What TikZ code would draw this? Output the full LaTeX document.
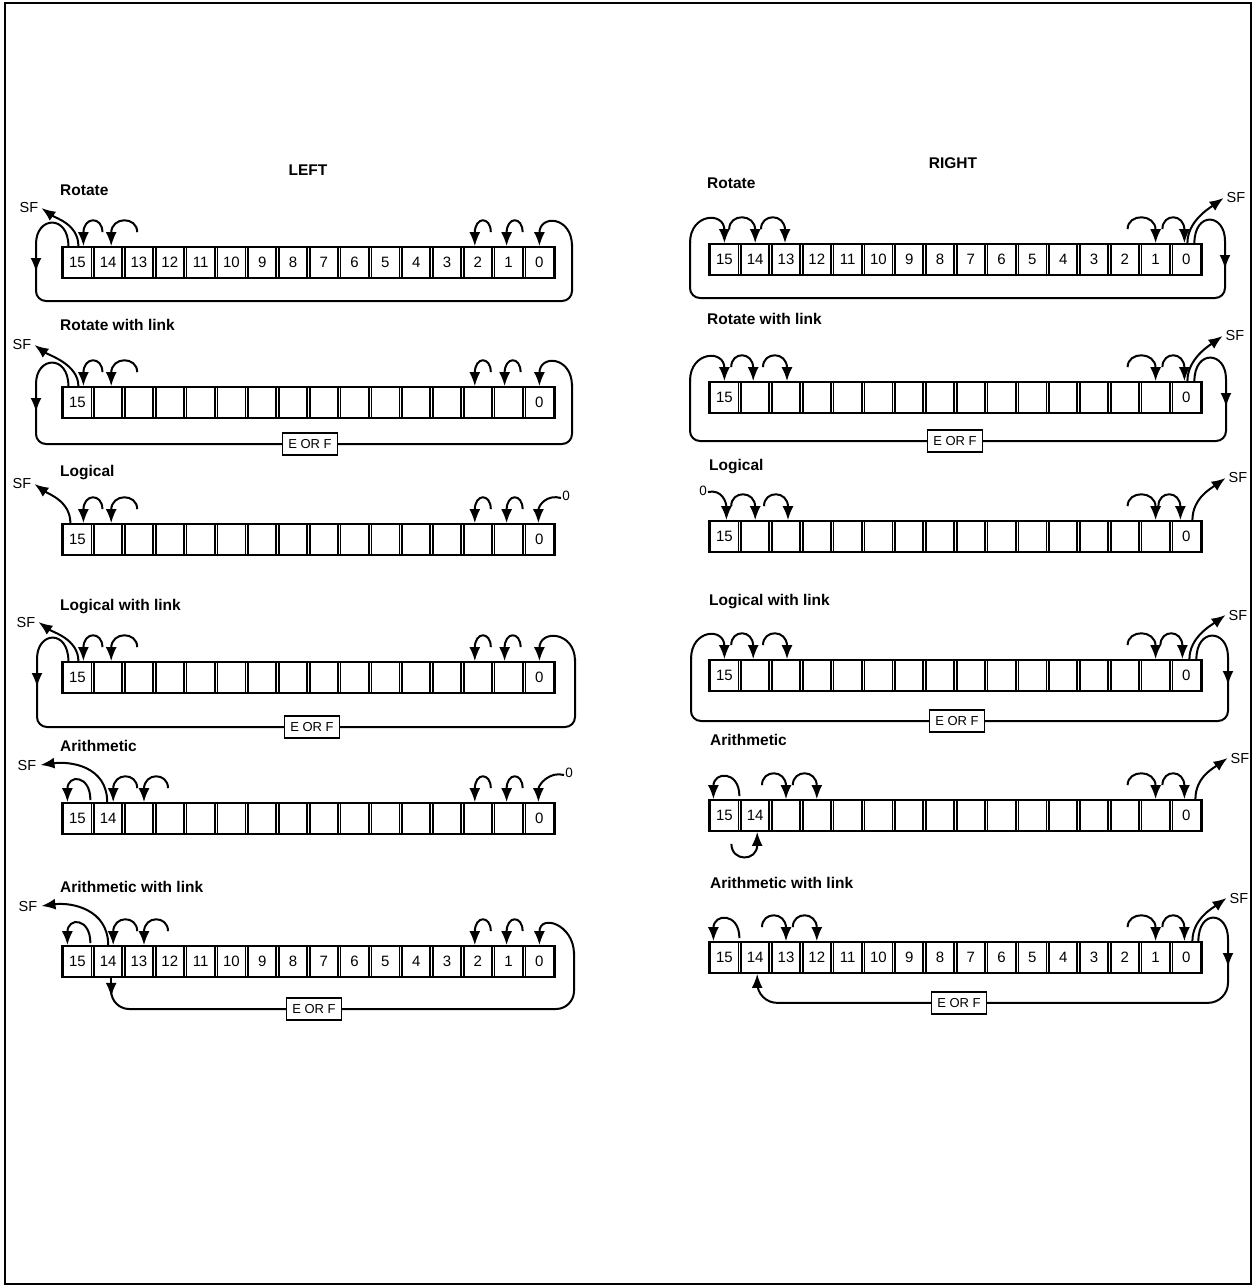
\documentclass[tikz,border=0pt]{standalone}
\usepackage{fontspec}
\setmainfont{Liberation Sans}
\usetikzlibrary{calc,arrows.meta}
\def\cw{30.8}
\newcommand\labfor[2]{\ifcase#1\relax#2\or\ifnum#2=15 15\fi\ifnum#2=0 0\fi\or\ifnum#2=15 15\fi\ifnum#2=14 14\fi\ifnum#2=0 0\fi\fi}
\newcommand\mkreg[4]{%
  \draw[regframe] (#2,#3) rectangle ++({16*\cw},31);
  \foreach \i in {0,...,15}{%
    \pgfmathtruncatemacro\b{15-\i}%
    \node[cellbox] (#1-\b) at ({#2+(\i+0.5)*\cw},{#3+15.5}) {\labfor{#4}{\b}};
  }%
}
\newcommand\hkL[3]{\draw[arr] ($(#1.north)+({#2+#3},-14)$) .. controls +(0,-16) and +(0,-30) .. ($(#1.north)+(#2,0)$);}
\newcommand\hkR[3]{\draw[arr] ($(#1.north)+({#2-#3},-14)$) .. controls +(0,-16) and +(0,-30) .. ($(#1.north)+(#2,0)$);}
\tikzset{
  arr/.style={line width=2pt,-{Latex[length=14pt,width=11pt]}},
  ln/.style={line width=2pt},
  cellbox/.style={draw,line width=1.7pt,minimum width=28.1pt,minimum height=31pt,inner sep=0pt,font=\fontsize{15}{15}\selectfont},
  regframe/.style={line width=2.2pt},
  ttl/.style={font=\bfseries\fontsize{15.5}{15.5}\selectfont,anchor=west,inner sep=0pt},
  hd/.style={font=\bfseries\fontsize{15.5}{15.5}\selectfont,inner sep=0pt},
  sft/.style={font=\fontsize{14.5}{14.5}\selectfont,inner sep=0pt},
  zt/.style={font=\fontsize{13.5}{13.5}\selectfont,inner sep=0pt},
  eor/.style={draw,fill=white,line width=1.6pt,minimum width=55pt,minimum height=22pt,inner sep=2pt,font=\fontsize{13}{13}\selectfont},
}
\begin{document}
\begin{tikzpicture}[x=1pt,y=-1pt]
\useasboundingbox (0,0) rectangle (1256,1288);
\draw[line width=1.5pt] (5,3) rectangle (1251,1284);
\node[hd] (lefthd) at (308,170) {LEFT};
\node[hd] (righthd) at (953,163) {RIGHT};
% ================= LEFT =================
% L1 Rotate
\mkreg{L1}{62}{247}{0}
\node[ttl] (L1t) at (60,190) {Rotate};
\node[sft] (L1sf) at (29,208) {SF};
\draw[arr] ($(L1-15.north)+(1,0)$) .. controls +(0,-22) and +(14,10) .. ($(L1sf.east)+(3,0)$);
\draw[arr] ($(L1-15.north)+(-9,0)$) .. controls +(0,-32) and +(0,-28) .. (36,244) -- (36,272);
\draw[ln,rounded corners=10pt] (36,266) |- (300,301) -| (572,244);
\draw[arr] (572,246) .. controls +(0,-30) and +(0,-32) .. (L1-0.north);
\hkL{L1-15}{6}{19}\hkL{L1-14}{3}{26}\hkL{L1-2}{-3}{16}\hkL{L1-1}{-2}{16}
% L2 Rotate with link
\mkreg{L2}{62}{387}{1}
\node[ttl] (L2t) at (60,325) {Rotate with link};
\node[sft] (L2sf) at (22,345) {SF};
\draw[arr] ($(L2-15.north)+(1,0)$) .. controls +(0,-22) and +(14,10) .. ($(L2sf.east)+(3,0)$);
\draw[arr] ($(L2-15.north)+(-9,0)$) .. controls +(0,-32) and +(0,-28) .. (36,384) -- (36,412);
\draw[ln,rounded corners=10pt] (36,406) |- (300,444) -| (572,384);
\draw[arr] (572,386) .. controls +(0,-30) and +(0,-32) .. (L2-0.north);
\node[eor] (L2eor) at (310,444) {E OR F};
\hkL{L2-15}{6}{19}\hkL{L2-14}{3}{26}\hkL{L2-2}{-3}{16}\hkL{L2-1}{-4}{16}
% L3 Logical
\mkreg{L3}{62}{524}{1}
\node[ttl] (L3t) at (60,473) {Logical};
\node[sft] (L3sf) at (22,484) {SF};
\draw[arr] ($(L3-15.north)+(-7,0)$) .. controls +(0,-22) and +(14,10) .. ($(L3sf.east)+(3,0)$);
\hkL{L3-15}{6}{19}\hkL{L3-14}{3}{26}\hkL{L3-2}{-3}{16}\hkL{L3-1}{-2}{16}
\node[zt] (L3z) at (566,496) {0};
\draw[arr] ($(L3z.west)+(-1,2)$) .. controls +(-14,-4) and +(0,-18) .. ($(L3-0.north)+(-1,0)$);
% L4 Logical with link
\mkreg{L4}{62}{662}{1}
\node[ttl] (L4t) at (60,607) {Logical with link};
\node[sft] (L4sf) at (26,622) {SF};
\draw[arr] ($(L4-15.north)+(1,0)$) .. controls +(0,-22) and +(14,10) .. ($(L4sf.east)+(3,0)$);
\draw[arr] ($(L4-15.north)+(-9,0)$) .. controls +(0,-32) and +(0,-28) .. (37,659) -- (37,687);
\draw[ln,rounded corners=10pt] (37,681) |- (300,727) -| (575,659);
\draw[arr] (575,661) .. controls +(0,-30) and +(0,-32) .. (L4-0.north);
\node[eor] (L4eor) at (312,727) {E OR F};
\hkL{L4-15}{6}{19}\hkL{L4-14}{3}{26}\hkL{L4-2}{-3}{16}\hkL{L4-1}{-4}{16}
% L5 Arithmetic
\mkreg{L5}{62}{803}{2}
\node[ttl] (L5t) at (60,746) {Arithmetic};
\node[sft] (L5sf) at (27,765) {SF};
\draw[arr] ($(L5-14.north)+(-1,0)$) .. controls +(0,-36) and +(30,-4) .. ($(L5sf.east)+(4,0)$);
\draw[arr] ($(L5-15.north)+(13,-2)$) .. controls +(0,-26) and +(0,-28) .. ($(L5-15.north)+(-10,0)$);
\hkL{L5-14}{5}{24}\hkL{L5-13}{5}{24}\hkL{L5-2}{-3}{16}\hkL{L5-1}{-2}{16}
\node[zt] (L5z) at (569,773) {0};
\draw[arr] ($(L5z.west)+(-1,2)$) .. controls +(-14,-4) and +(0,-18) .. ($(L5-0.north)+(-1,0)$);
% L6 Arithmetic with link
\mkreg{L6}{62}{946}{0}
\node[ttl] (L6t) at (60,887) {Arithmetic with link};
\node[sft] (L6sf) at (28,906) {SF};
\draw[arr] ($(L6-14.north)+(0,0)$) .. controls +(0,-36) and +(30,-4) .. ($(L6sf.east)+(4,0)$);
\draw[arr] ($(L6-15.north)+(13,-2)$) .. controls +(0,-26) and +(0,-28) .. ($(L6-15.north)+(-10,0)$);
\hkL{L6-14}{5}{24}\hkL{L6-13}{5}{24}\hkL{L6-2}{-3}{16}\hkL{L6-1}{-2}{16}
\draw[arr] ($(L6-14.south)+(3,0)$) -- ++(0,19);
\draw[ln,rounded corners=18pt] ($(L6-14.south)+(3,12)$) |- (574,1009) -- (574,952);
\draw[arr] (574,954) .. controls +(0,-30) and +(0,-32) .. (L6-0.north);
\node[eor] (L6eor) at (314,1009) {E OR F};
% ================= RIGHT =================
% R1 Rotate
\mkreg{R1}{709}{244}{0}
\node[ttl] (R1t) at (707,183) {Rotate};
\node[sft] (R1sf) at (1236,198) {SF};
\draw[arr] ($(R1-0.north)+(1,0)$) .. controls +(0,-22) and +(-14,10) .. ($(R1sf.west)+(-3,0)$);
\draw[arr] ($(R1-0.north)+(8,0)$) .. controls +(0,-32) and +(0,-28) .. (1225,241) -- (1225,269);
\draw[ln,rounded corners=10pt] (1225,263) |- (950,298) -| (690,241);
\draw[arr] (690,243) .. controls +(0,-30) and +(0,-32) .. (R1-15.north);
\hkR{R1-14}{0}{26}\hkR{R1-13}{-1}{24}\hkR{R1-1}{0}{28}\hkR{R1-0}{-2}{22}
% R2 Rotate with link
\mkreg{R2}{709}{382}{1}
\node[ttl] (R2t) at (707,319) {Rotate with link};
\node[sft] (R2sf) at (1235,336) {SF};
\draw[arr] ($(R2-0.north)+(1,0)$) .. controls +(0,-22) and +(-14,10) .. ($(R2sf.west)+(-3,0)$);
\draw[arr] ($(R2-0.north)+(8,0)$) .. controls +(0,-32) and +(0,-28) .. (1226,379) -- (1226,407);
\draw[ln,rounded corners=10pt] (1226,401) |- (950,441) -| (690,379);
\draw[arr] (690,381) .. controls +(0,-30) and +(0,-32) .. (R2-15.north);
\node[eor] (R2eor) at (955,441) {E OR F};
\hkR{R2-14}{-2}{22}\hkR{R2-13}{1}{24}\hkR{R2-1}{0}{28}\hkR{R2-0}{-2}{22}
% R3 Logical
\mkreg{R3}{709}{521}{1}
\node[ttl] (R3t) at (709,467) {Logical};
\node[sft] (R3sf) at (1238,478) {SF};
\draw[arr] ($(R3-0.north)+(6,0)$) .. controls +(0,-22) and +(-14,10) .. ($(R3sf.west)+(-3,0)$);
\node[zt] (R3z) at (703,491) {0};
\draw[arr] ($(R3z.east)+(1,1)$) .. controls +(14,-3) and +(0,-18) .. ($(R3-15.north)+(2,0)$);
\hkR{R3-14}{0}{24}\hkR{R3-13}{2}{24}\hkR{R3-1}{0}{28}\hkR{R3-0}{-6}{22}
% R4 Logical with link
\mkreg{R4}{709}{660}{1}
\node[ttl] (R4t) at (709,602) {Logical with link};
\node[sft] (R4sf) at (1238,615) {SF};
\draw[arr] ($(R4-0.north)+(3,0)$) .. controls +(0,-22) and +(-14,10) .. ($(R4sf.west)+(-3,0)$);
\draw[arr] ($(R4-0.north)+(10,0)$) .. controls +(0,-32) and +(0,-28) .. (1228,657) -- (1228,685);
\draw[ln,rounded corners=10pt] (1228,679) |- (950,721) -| (691,657);
\draw[arr] (691,659) .. controls +(0,-30) and +(0,-32) .. (R4-15.north);
\node[eor] (R4eor) at (957,721) {E OR F};
\hkR{R4-14}{-2}{22}\hkR{R4-13}{1}{24}\hkR{R4-1}{0}{28}\hkR{R4-0}{-4}{22}
% R5 Arithmetic
\mkreg{R5}{709}{800}{2}
\node[ttl] (R5t) at (710,740) {Arithmetic};
\node[sft] (R5sf) at (1240,758) {SF};
\draw[arr] ($(R5-0.north)+(9,0)$) .. controls +(0,-22) and +(-14,10) .. ($(R5sf.west)+(-3,0)$);
\draw[arr] ($(R5-15.north)+(15,-3)$) .. controls +(0,-26) and +(0,-28) .. ($(R5-15.north)+(-11,0)$);
\draw[arr] ($(R5-15.south)+(7,12)$) .. controls +(0,18) and +(0,30) .. ($(R5-14.south)+(2,0)$);
\hkR{R5-13}{0}{24}\hkR{R5-12}{0}{24}\hkR{R5-1}{0}{28}\hkR{R5-0}{-2}{22}
% R6 Arithmetic with link
\mkreg{R6}{709}{942}{0}
\node[ttl] (R6t) at (710,883) {Arithmetic with link};
\node[sft] (R6sf) at (1239,898) {SF};
\draw[arr] ($(R6-0.north)+(6,0)$) .. controls +(0,-22) and +(-14,10) .. ($(R6sf.west)+(-3,0)$);
\draw[arr] ($(R6-0.north)+(12,0)$) .. controls +(0,-32) and +(0,-28) .. (1228,939) -- (1228,967);
\draw[arr,rounded corners=20pt] (1228,961) |- ($(R6-14.south)+(2,29)$) -- ($(R6-14.south)+(2,0)$);
\node[eor] (R6eor) at (959,1003) {E OR F};
\draw[arr] ($(R6-15.north)+(15,-3)$) .. controls +(0,-26) and +(0,-28) .. ($(R6-15.north)+(-11,0)$);
\hkR{R6-13}{0}{24}\hkR{R6-12}{0}{24}\hkR{R6-1}{0}{28}\hkR{R6-0}{-2}{22}
\end{tikzpicture}
\end{document}
